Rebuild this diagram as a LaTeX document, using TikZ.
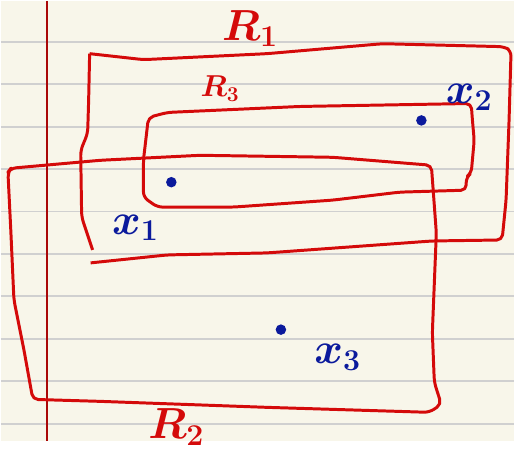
\documentclass[tikz,border=0pt]{standalone}
\usepackage{amsmath,amssymb}
\usepackage{xcolor}
\usepackage{tikz}
\usetikzlibrary{positioning,calc}
\definecolor{paperbg}{HTML}{F8F6EA}
\definecolor{ruleline}{HTML}{D0D0D0}
\definecolor{inkred}{HTML}{D40A0A}
\definecolor{inkblue}{HTML}{0B1A9C}
\tikzset{
    rule/.style={draw=ruleline, line width=1.1pt},
    margin/.style={draw=inkred!80!black, line width=1pt},
    region/.style={draw=inkred, line width=1.7pt, rounded corners=3pt, line join=round},
    point/.style={
        circle, fill=inkblue, inner sep=0pt, minimum size=6pt
    },
    setname/.style={text=inkred, font=\fontsize{26}{28}\selectfont\boldmath},
    ptname/.style={text=inkblue, font=\fontsize{26}{28}\selectfont\boldmath}
}

\begin{document}
\begin{tikzpicture}[x=0.02cm, y=-0.02cm]

% Paper
\fill[paperbg] (0,0) rectangle (515,442);
\foreach \k in {0,...,9}
    \draw[rule] (0,{41+42.6*\k}) -- (515,{41+42.6*\k});
\draw[margin] (46,0) -- (46,442);

% R1
\draw[region] (89,53) -- (143,59) -- (267,53) -- (383,43) -- (505,46) -- (512,50)
    -- (510,120) -- (507,200) -- (503,240) -- (433,241) -- (267,253) -- (167,255) -- (90,263);
\draw[region] (89,53) -- (88,100) -- (87,133) -- (80,150) -- (81,217) -- (92,250);

% R2
\draw[region] (7,172) -- (10,168) -- (100,160) -- (200,155) -- (333,157) -- (432,165)
    -- (437,233) -- (433,333) -- (435,383) -- (442,405) -- (430,413) -- (267,408)
    -- (100,402) -- (32,400) -- (23,350) -- (13,300) -- (10,233) -- cycle;

% R3
\draw[region] (148,117) -- (167,112) -- (300,106) -- (472,103) -- (473,117) -- (475,140)
    -- (472,173) -- (467,177) -- (467,190) -- (400,192) -- (333,200) -- (233,207)
    -- (157,207) -- (143,197) -- (143,160) -- cycle;

% Names of the sets
\node[setname] (r1) at (250,28) {$R_1$};
\node[setname] (r2) at (176,428) {$R_2$};
\node[setname, font=\fontsize{17}{19}\selectfont\boldmath] (r3) at (220,88) {$R_3$};

% Points
\node[point] (p1) at (171,182) {};
\node[point] (p2) at (422,120) {};
\node[point] (p3) at (281,330) {};

\node[ptname] (x1) at (135,228) {$x_1$};
\node[ptname] (x2) at (470,97)  {$x_2$};
\node[ptname] (x3) at (338,358) {$x_3$};

\end{tikzpicture}
\end{document}
